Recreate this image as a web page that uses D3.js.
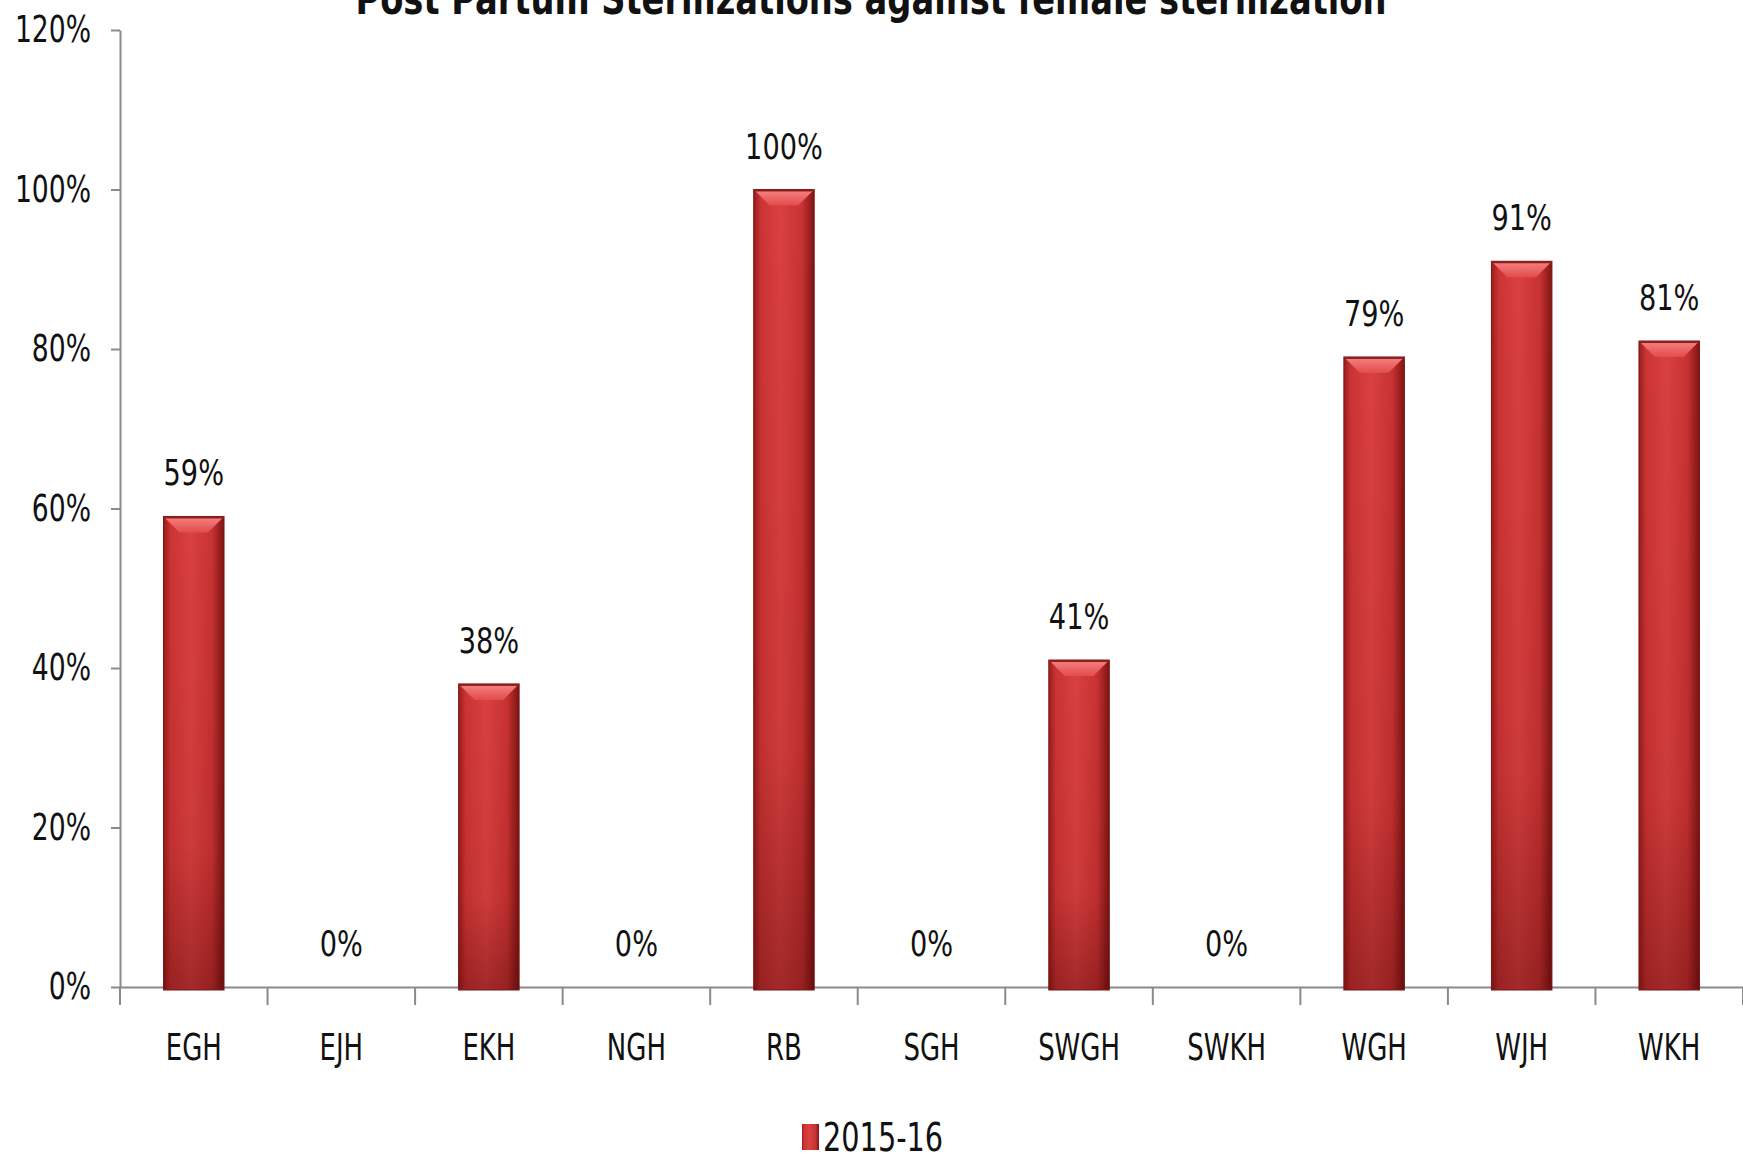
<!DOCTYPE html>
<html>
<head>
<meta charset="utf-8">
<script src="https://cdn.jsdelivr.net/npm/d3@7"></script>
<style>
  html, body { margin: 0; padding: 0; background: #fff; overflow: hidden; }
  svg text { font-family: "Liberation Sans Narrow", "DejaVu Sans Condensed", sans-serif; fill: #111; }
</style>
</head>
<body>
<svg id="chart"></svg>
<script>
const categories = ['EGH', 'EJH', 'EKH', 'NGH', 'RB', 'SGH', 'SWGH', 'SWKH', 'WGH', 'WJH', 'WKH'];
const values2015 = [59, 0, 38, 0, 100, 0, 41, 0, 79, 91, 81];
const yTicks = [0, 20, 40, 60, 80, 100, 120];
const seriesName = '2015-16';
const title = 'Post Partum Sterilizations against female sterilization';

const WIDTH = 1743;
const HEIGHT = 1161;
const MARGIN = {top: 30, right: 0, bottom: 174, left: 120};

const svg = d3.select('#chart')
  .attr('width', WIDTH)
  .attr('height', HEIGHT);

const defs = svg.append('defs');

// bar body: darker edges, lighter middle
const side = defs.append('linearGradient')
  .attr('id', 'bar-side')
  .attr('x1', 0).attr('x2', 1).attr('y1', 0).attr('y2', 0);
[['0%', '#9c1c1c'], ['12%', '#cc3434'], ['45%', '#da4040'], ['80%', '#c83232'], ['100%', '#7e1414']]
  .forEach(([o, c]) => side.append('stop').attr('offset', o).attr('stop-color', c));

// darken toward the bottom
const shade = defs.append('linearGradient')
  .attr('id', 'bar-shade')
  .attr('x1', 0).attr('x2', 0).attr('y1', 0).attr('y2', 1);
[['0%', 0], ['70%', 0.08], ['100%', 0.35]]
  .forEach(([o, a]) => shade.append('stop').attr('offset', o).attr('stop-color', '#3a0000').attr('stop-opacity', a));

const bevelGrad = defs.append('linearGradient')
  .attr('id', 'bar-top')
  .attr('x1', 0).attr('x2', 0).attr('y1', 0).attr('y2', 1);
[['0%', '#f58080'], ['100%', '#e24c4c']]
  .forEach(([o, c]) => bevelGrad.append('stop').attr('offset', o).attr('stop-color', c));

const width = WIDTH - MARGIN.left - MARGIN.right;
const height = HEIGHT - MARGIN.top - MARGIN.bottom;

const x = d3.scaleBand()
  .domain(categories)
  .range([0, width])
  .padding(0);

const y = d3.scaleLinear()
  .domain([0, 120])
  .range([height, 0]);

const barW = x.bandwidth() * 0.41;
const bevel = 16;
const squeeze = 0.8;

const chart = svg.append('g')
  .attr('transform', `translate(${MARGIN.left}, ${MARGIN.top})`);

// title, mostly cut off by the top edge
svg.append('text')
  .attr('x', 871)
  .attr('y', 14)
  .attr('text-anchor', 'middle')
  .style('font-size', '44px')
  .style('font-weight', 'bold')
  .attr('textLength', 1031)
  .attr('lengthAdjust', 'spacingAndGlyphs')
  .text(title);

const yAxis = d3.axisLeft(y)
  .tickValues(yTicks)
  .tickFormat((d) => d + '%')
  .tickSizeInner(9)
  .tickSizeOuter(0)
  .tickPadding(20);

const xAxis = d3.axisBottom(x)
  .tickSize(0)
  .tickPadding(46);

const yG = chart.append('g').call(yAxis);
yG.selectAll('text')
  .style('font-size', '37px')
  .attr('x', 0)
  .attr('transform', `translate(-29, 0) scale(${squeeze}, 1)`);

const xG = chart.append('g')
  .attr('transform', `translate(0, ${height})`)
  .call(xAxis);
xG.selectAll('text')
  .style('font-size', '38px')
  .attr('transform', 'scale(0.76, 1)');

// category boundary ticks
chart.append('g')
  .selectAll('line')
  .data(d3.range(categories.length + 1))
  .enter()
  .append('line')
  .attr('x1', (i) => i * x.step())
  .attr('x2', (i) => i * x.step())
  .attr('y1', height)
  .attr('y2', height + 18);

chart.selectAll('.domain, line')
  .attr('stroke', '#8a8a8a')
  .attr('stroke-width', 2);

const bars = chart.selectAll('.bar')
  .data(categories.map((c, i) => ({c, v: values2015[i]})))
  .enter()
  .append('g')
  .attr('class', 'bar');

const bx = (d) => x(d.c) + (x.bandwidth() - barW) / 2;
const filled = bars.filter((d) => d.v > 0);

filled.append('rect')
  .attr('x', bx)
  .attr('y', (d) => y(d.v))
  .attr('width', barW)
  .attr('height', (d) => height - y(d.v) + 3)
  .attr('fill', 'url(#bar-side)');

filled.append('rect')
  .attr('x', bx)
  .attr('y', (d) => y(d.v))
  .attr('width', barW)
  .attr('height', (d) => height - y(d.v) + 3)
  .attr('fill', 'url(#bar-shade)')
  .attr('stroke', '#7a1616')
  .attr('stroke-width', 1);

// top bevel
filled.append('path')
  .attr('d', (d) => {
    const x0 = bx(d), x1 = x0 + barW, t = y(d.v);
    return `M${x0 + 1},${t + 1}L${x1 - 1},${t + 1}L${x1 - bevel},${t + bevel}L${x0 + bevel},${t + bevel}Z`;
  })
  .attr('fill', 'url(#bar-top)');

filled.append('rect')
  .attr('x', bx)
  .attr('y', (d) => y(d.v))
  .attr('width', barW)
  .attr('height', 2)
  .attr('fill', '#8e2020');

// value labels
bars.append('text')
  .attr('transform', (d) => `translate(${x(d.c) + x.bandwidth() / 2}, ${y(d.v) - 31}) scale(0.84, 1)`)
  .attr('text-anchor', 'middle')
  .style('font-size', '36px')
  .text((d) => d.v + '%');

// legend
const legend = svg.append('g')
  .attr('transform', 'translate(802, 1124)');

legend.append('rect')
  .attr('width', 17)
  .attr('height', 26)
  .attr('fill', 'url(#bar-side)');

legend.append('text')
  .attr('transform', 'translate(21, 27) scale(0.82, 1)')
  .style('font-size', '39px')
  .text(seriesName);
</script>
</body>
</html>
